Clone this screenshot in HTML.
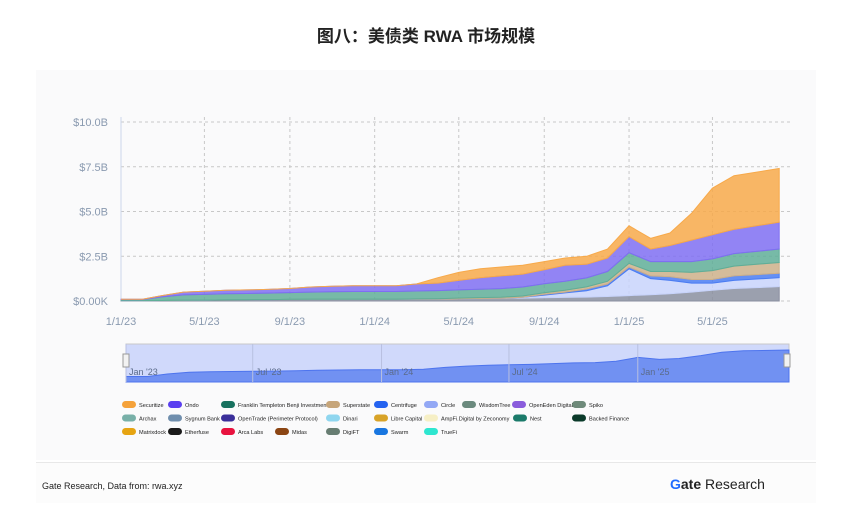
<!DOCTYPE html>
<html><head><meta charset="utf-8">
<style>
body{margin:0;background:#fff;width:852px;height:530px;overflow:hidden;font-family:"Liberation Sans","Noto Sans CJK SC",sans-serif;}
#title{position:absolute;top:22px;left:0;width:852px;text-align:center;font-size:17px;font-weight:bold;color:#222;}
#card{position:absolute;left:36px;top:70px;width:780px;height:390px;background:#fafafb;}
#foot{position:absolute;left:36px;top:462px;width:780px;height:40px;background:#fcfcfc;border-top:1px solid #e8e8e8;}
</style></head><body>
<div id="title">图八：美债类 RWA 市场规模</div>
<div id="card"></div>
<div id="foot"></div>
<div style="position:absolute;left:42px;top:481px;font-size:9px;color:#222">Gate Research, Data from: rwa.xyz</div>
<div style="position:absolute;left:670px;top:476px;font-size:14px;color:#222"><span style="color:#1f6bff;font-weight:bold">G</span><b>ate</b> Research</div>
<svg id="chart" width="852" height="530" style="position:absolute;left:0;top:0"></svg>
<script>
const dates=["2023-01-01","2023-02-01","2023-03-01","2023-04-01","2023-05-01","2023-06-01","2023-07-01","2023-08-01","2023-09-01","2023-10-01","2023-11-01","2023-12-01","2024-01-01","2024-02-01","2024-03-01","2024-04-01","2024-05-01","2024-06-01","2024-07-01","2024-08-01","2024-09-01","2024-10-01","2024-11-01","2024-12-01","2025-01-01","2025-02-01","2025-03-01","2025-04-01","2025-05-01","2025-06-01","2025-08-05"];
const others=[0.02,0.02,0.03,0.04,0.05,0.06,0.07,0.08,0.09,0.1,0.1,0.1,0.1,0.1,0.1,0.1,0.12,0.14,0.15,0.16,0.18,0.2,0.22,0.25,0.3,0.35,0.4,0.5,0.6,0.7,0.8];
const circle=[0,0,0,0,0,0,0,0,0,0,0,0,0,0,0,0,0,0,0,0.05,0.15,0.25,0.35,0.6,1.5,0.9,0.75,0.5,0.4,0.45,0.5];
const centrifuge=[0,0,0,0,0,0,0,0,0,0,0,0,0,0,0,0,0,0,0,0,0.05,0.05,0.1,0.1,0.1,0.15,0.2,0.2,0.2,0.25,0.25];
const superstate=[0,0,0,0,0,0,0,0,0,0,0,0,0,0,0.02,0.03,0.04,0.05,0.06,0.07,0.08,0.1,0.12,0.15,0.2,0.25,0.3,0.4,0.5,0.55,0.6];
const franklin=[0.06,0.06,0.2,0.3,0.32,0.34,0.35,0.36,0.38,0.4,0.42,0.43,0.43,0.43,0.44,0.45,0.46,0.47,0.48,0.5,0.5,0.5,0.5,0.55,0.6,0.55,0.55,0.6,0.65,0.7,0.75];
const ondo=[0.02,0.02,0.07,0.16,0.18,0.2,0.2,0.21,0.23,0.28,0.3,0.32,0.32,0.32,0.39,0.42,0.53,0.64,0.71,0.72,0.79,0.9,0.76,0.75,0.9,0.7,0.9,1.2,1.35,1.35,1.5];
const securitize=[0,0,0,0,0,0,0,0,0,0,0,0,0,0,0,0.3,0.45,0.5,0.5,0.5,0.45,0.4,0.45,0.5,0.6,0.6,0.7,1.5,2.6,3.0,3.0];
const yTicks=[0,2.5,5,7.5,10];
const yTickLabels=["$0.00K","$2.5B","$5.0B","$7.5B","$10.0B"];
const xTicks=["2023-01-01","2023-05-01","2023-09-01","2024-01-01","2024-05-01","2024-09-01","2025-01-01","2025-05-01"];
const xTickLabels=["1/1/23","5/1/23","9/1/23","1/1/24","5/1/24","9/1/24","1/1/25","5/1/25"];
const navTicks=["2023-01-01","2023-07-01","2024-01-01","2024-07-01","2025-01-01"];
const navTickLabels=["Jan '23","Jul '23","Jan '24","Jul '24","Jan '25"];
const legendNames=[["Securitize","Ondo","Franklin Templeton Benji Investments","Superstate","Centrifuge","Circle","WisdomTree","OpenEden Digital","Spiko"],["Archax","Sygnum Bank","OpenTrade (Perimeter Protocol)","Dinari","Libre Capital","AmpFi.Digital by Zeconomy","Nest","Backed Finance"],["Matrixdock","Etherfuse","Arca Labs","Midas","DigiFT","Swarm","TrueFi"]];
const legendColors=[["#f5a23a","#5a3ff0","#17715f","#c6a57a","#2563f0","#93a8f5","#6b8a7e","#8a5cdc","#6e8a7a"],["#78b0a8","#6f8ead","#3a2f9a","#8fd6ef","#d8a328","#f6efc5","#1b7a6a","#0b3a2a"],["#e6a412","#1a1a1a","#e8123f","#8b4513","#677d72","#1976e0","#2ee6d0"]];

const NS="http://www.w3.org/2000/svg";
const svg=document.getElementById('chart');
const t0=Date.parse("2023-01-01");
const X0=121,PXD=0.695,Y0=301,PXB=17.9;
function xs(d){return X0+(Date.parse(d)-t0)/864e5*PXD;}
function ys(v){return Y0-v*PXB;}
function mk(tag,attrs,parent){const e=document.createElementNS(NS,tag);for(const k in attrs)e.setAttribute(k,attrs[k]);(parent||svg).appendChild(e);return e;}
yTicks.forEach((v,i)=>{
 const l=mk('line',{x1:121,x2:790,y1:ys(v),y2:ys(v),stroke:'#c8c8c8','stroke-dasharray':'3,3','stroke-width':1});
 
 
 const t=mk('text',{x:108,y:ys(v)+4,'text-anchor':'end','font-size':11,fill:'#8a9ab0'});t.textContent=yTickLabels[i];
 
 
});
xTicks.forEach((d,i)=>{
 const l=mk('line',{x1:xs(d),x2:xs(d),y1:117,y2:301,stroke:'#c8c8c8','stroke-dasharray':'3,3'});
 
 
 const t=mk('text',{x:xs(d),y:325,'text-anchor':'middle','font-size':11,fill:'#8a9ab0'});t.textContent=xTickLabels[i];
 
 
});
mk('line',{x1:121,x2:121,y1:117,y2:301,stroke:'#ccd6eb'});
const series=[["others",others,"#8a8fa0"],["circle",circle,"#c8d4fb"],["centrifuge",centrifuge,"#4a7cf2"],["superstate",superstate,"#cdb08a"],["franklin",franklin,"#5fae98"],["ondo",ondo,"#7f6ef2"],["securitize",securitize,"#f7a94a"]];
const base=dates.map(()=>0);
series.forEach(([name,vals,col])=>{
 const top=vals.map((v,i)=>base[i]+v);
 let d="M"+dates.map((dt,i)=>xs(dt).toFixed(1)+","+ys(top[i]).toFixed(1)).join("L");
 for(let i=dates.length-1;i>=0;i--)d+="L"+xs(dates[i]).toFixed(1)+","+ys(base[i]).toFixed(1);
 const p=mk('path',{d:d+"Z",fill:col,'fill-opacity':0.85,stroke:col,'stroke-width':1});
 
 
 top.forEach((v,i)=>base[i]=v);
});
const nav=mk('rect',{x:126,y:344,width:663,height:38,fill:'#d0d9fb',stroke:'#c8c8c8'});


const NX0=126,NW=663,span=(Date.parse(dates[dates.length-1])-t0);
function nx(d){return NX0+(Date.parse(d)-t0)/span*NW;}
function ny(v){return 380-Math.sqrt(v/7.4)*30;}
let nd="M"+dates.map((dt,i)=>nx(dt).toFixed(1)+","+ny(base[i]).toFixed(1)).join("L")+"L"+nx(dates[dates.length-1])+",382L126,382Z";
const na=mk('path',{d:nd,fill:'#7191f2',stroke:'#4d74ee'});


navTicks.forEach((d,i)=>{
 mk('line',{x1:nx(d),x2:nx(d),y1:344,y2:382,stroke:'#b8c0e0'});
 const t=mk('text',{x:nx(d)+3,y:375,'font-size':9,fill:'#5b6b8a'});t.textContent=navTickLabels[i];
 
 
});
[126,787].forEach(x=>{const h=mk('rect',{x:x-3,y:354,width:6,height:13,fill:'#f2f2f2',stroke:'#999'});
 
 });
const colX=[122,168,221,326,374,424,462,512,572];
const rowX=[[122,168,221,326,374,424,513,572],[122,168,221,275,326,374,424]];
legendNames.forEach((row,r)=>{
 row.forEach((n,i)=>{
  const x=r==0?colX[i]:rowX[r-1][i];
  const y=405+r*13.5;
  const g=mk('g',{});
  
  
  mk('rect',{x:x,y:y-4,width:14,height:7,rx:3.5,fill:legendColors[r][i]},g);
  const t=mk('text',{x:x+17,y:y+2.2,'font-size':5.6,fill:'#222'},g);t.textContent=n;
 });
});
</script>
</body></html>
